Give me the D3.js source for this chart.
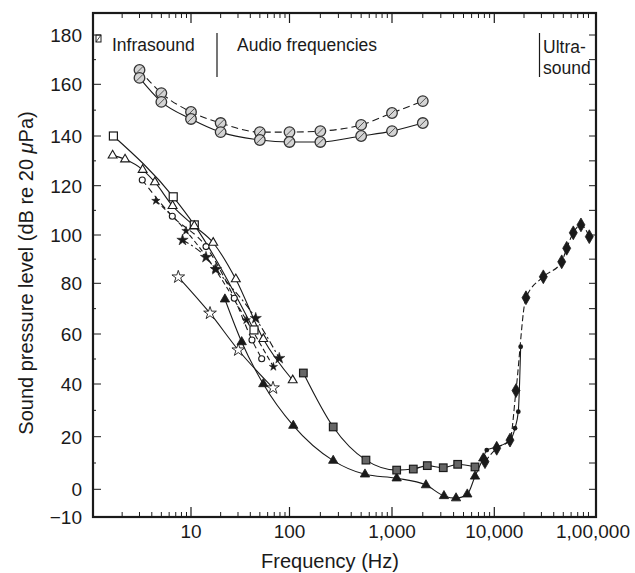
<!DOCTYPE html>
<html><head><meta charset="utf-8">
<script src="https://cdn.jsdelivr.net/npm/d3@7"></script>
<style>body{margin:0;background:#fff}svg{display:block}</style>
</head><body><svg id="c" width="635" height="573"></svg>
<script>
// ---------- axis ticks ----------
const xTickValues = [10, 100, 1000, 10000, 100000];
const xTickLabels = ["10", "100", "1,000", "10,000", "1,00,000"];
const yTickValues = [-10, 0, 20, 40, 60, 80, 100, 120, 140, 160, 180];
const yTickLabels = ["\u221210", "0", "20", "40", "60", "80", "100", "120", "140", "160", "180"];

// ---------- data (frequency Hz, level dB) ----------
const upperFreq = [3, 5, 10, 20, 50, 100, 200, 500, 1000, 2000];
const upperDashedDb = [165.8, 156.6, 149.3, 145, 141.5, 141.5, 141.9, 144.3, 148.9, 153.5];
const upperSolidDb = [162.6, 153.2, 146.6, 141.5, 138.4, 137.6, 137.6, 140, 141.9, 145];

const sqOpenFreq = [1.63, 6.6, 10.8, 43.6];
const sqOpenDb = [140, 115.5, 104.1, 61.6];

const triOpenFreq = [1.6, 2.14, 3.23, 4.3, 6.5, 10.8, 16.8, 28.5, 54.2, 107.5];
const triOpenDb = [132.2, 130.6, 126.4, 121.4, 111.8, 103.7, 96.8, 81.7, 58, 41.5];

const circOpenFreq = [3.2, 6.46, 14.2, 27.5, 41.6, 52.2];
const circOpenDb = [122.3, 107.6, 95.2, 74.1, 57.6, 50.1];

const starFilledFreq = [8.2, 14.2, 17.9, 45.4, 78.7];
const starFilledDb = [97.9, 90.8, 85.8, 66.2, 50.3];

const xStarFreq = [4.4, 8.9, 17.5, 36.4, 68.6];
const xStarDb = [113.9, 101.7, 85.9, 65.5, 46.9];

const starOpenFreq = [7.43, 15.6, 30.2, 68];
const starOpenDb = [82.6, 68.2, 53.6, 38.5];

const triFilledFreq = [22.1, 32.7, 54.2, 108.9, 267, 545, 1111, 2148, 3221, 4226, 5445, 6476, 7800];
const triFilledDb = [73.7, 56.8, 40, 24.2, 10.9, 5.7, 4.2, 1.6, -2.4, -3.2, -1.8, 4.9, 11.8];

const sqFilledFreq = [136.5, 267, 557, 1111, 1615, 2213, 3170, 4385, 6476];
const sqFilledDb = [44.4, 23.7, 11.1, 7.3, 7.7, 9.0, 8.2, 9.5, 8.5];

const dotFreq = [7800, 8440, 10580, 14420, 16200, 17500, 18500];
const dotDb = [11.8, 14.9, 16.1, 18.7, 23.2, 29.5, 54.9];

const diamFreq = [8110, 10580, 14420, 16590, 20940, 31380, 48200, 54140, 63130, 75500, 91700];
const diamDb = [10.5, 15.6, 18.7, 37.5, 74.3, 82.7, 88.9, 94.5, 100.9, 104.1, 99.3];

// ---------- scales ----------
const svg = d3.select("#c");
const ink = "#1a1a1a";
const x = d3.scaleLog()
  .domain([1, 10, 100, 1000, 10000, 100000])
  .range([92.5, 191, 289.5, 392, 494.3, 593]);
const y = d3.scaleLinear()
  .domain(yTickValues)
  .range([517, 489.3, 436.7, 384, 334, 283.3, 235, 185.7, 136, 84.3, 35]);

const L = 93, R = 596, T = 13, B = 517;
const font = "'Liberation Sans', Arial, Helvetica, sans-serif";

// ---------- ticks ----------
const tk = svg.append("g").attr("stroke", ink);
const minorX = [];
for (let e = 0; e < 5; e++) for (let m = 2; m <= 9; m++) minorX.push(m * Math.pow(10, e));
minorX.forEach(v => {
  tk.append("line").attr("x1", x(v)).attr("x2", x(v)).attr("y1", B).attr("y2", B - 5).attr("stroke-width", 1);
  tk.append("line").attr("x1", x(v)).attr("x2", x(v)).attr("y1", T).attr("y2", T + 5).attr("stroke-width", 1);
});
xTickValues.slice(0, 4).forEach(v => {
  tk.append("line").attr("x1", x(v)).attr("x2", x(v)).attr("y1", B).attr("y2", B - 10).attr("stroke-width", 1.2);
  tk.append("line").attr("x1", x(v)).attr("x2", x(v)).attr("y1", T).attr("y2", T + 10).attr("stroke-width", 1.2);
});
d3.range(-10, 181, 10).forEach(v => {
  const major = v >= 0 && v % 20 === 0;
  tk.append("line").attr("x1", L).attr("x2", L + (major ? 8 : 3)).attr("y1", y(v)).attr("y2", y(v)).attr("stroke-width", 1);
  if (v > -10) tk.append("line").attr("x1", R).attr("x2", R - 7).attr("y1", y(v)).attr("y2", y(v)).attr("stroke-width", 1);
});

// frame
svg.append("rect").attr("x", L).attr("y", T).attr("width", R - L).attr("height", B - T)
  .attr("fill", "none").attr("stroke", ink).attr("stroke-width", 2.2);

// tick labels
svg.append("g").selectAll("text").data(xTickValues).join("text")
  .attr("x", d => x(d)).attr("y", 538).attr("text-anchor", "middle")
  .attr("font-family", font).attr("font-size", 19).attr("fill", ink)
  .text((d, i) => xTickLabels[i]);
svg.append("g").selectAll("text").data(yTickValues).join("text")
  .attr("x", 82).attr("y", d => d === -10 ? B : y(d)).attr("dy", "0.36em").attr("text-anchor", "end")
  .attr("font-family", font).attr("font-size", 19).attr("fill", ink)
  .text((d, i) => yTickLabels[i]);

// axis titles
svg.append("text").attr("x", 330).attr("y", 568).attr("text-anchor", "middle")
  .attr("font-family", font).attr("font-size", 20).attr("fill", ink).text("Frequency (Hz)");
const yt = svg.append("text").attr("transform", "translate(33,273) rotate(-90)").attr("text-anchor", "middle")
  .attr("font-family", font).attr("font-size", 20).attr("fill", ink);
yt.append("tspan").text("Sound pressure level (dB re 20 ");
yt.append("tspan").attr("font-style", "italic").text("\u03bc");
yt.append("tspan").text("Pa)");

// region labels
const lab = (t, xx, yy) => svg.append("text").attr("x", xx).attr("y", yy)
  .attr("font-family", font).attr("font-size", 17.5).attr("fill", ink).text(t);
lab("Infrasound", 112, 51);
lab("Audio frequencies", 237, 51);
lab("Ultra-", 543, 53);
lab("sound", 543, 74);
svg.append("line").attr("x1", 217).attr("x2", 217).attr("y1", 33).attr("y2", 77).attr("stroke", ink).attr("stroke-width", 1.2);
svg.append("line").attr("x1", 539.5).attr("x2", 539.5).attr("y1", 33).attr("y2", 77).attr("stroke", ink).attr("stroke-width", 1.2);
svg.append("rect").attr("x", 96).attr("y", 35).attr("width", 5).attr("height", 7).attr("fill", "none").attr("stroke", ink).attr("stroke-width", 1);
svg.append("line").attr("x1", 96).attr("y1", 42).attr("x2", 101).attr("y2", 35).attr("stroke", ink).attr("stroke-width", 0.8);

// ---------- series ----------
const series = [
  {f: upperFreq, d: upperDashedDb, m: "hatchCircle", dash: "7,4"},
  {f: upperFreq, d: upperSolidDb, m: "hatchCircle", dash: null},
  {f: sqOpenFreq, d: sqOpenDb, m: "openSquare", dash: null},
  {f: triOpenFreq, d: triOpenDb, m: "openTriangle", dash: null},
  {f: circOpenFreq, d: circOpenDb, m: "openCircle", dash: "6,4"},
  {f: starFilledFreq, d: starFilledDb, m: "filledStar", dash: "7,3,2,3"},
  {f: xStarFreq, d: xStarDb, m: "xStar", dash: "5,3"},
  {f: starOpenFreq, d: starOpenDb, m: "openStar", dash: null},
  {f: triFilledFreq, d: triFilledDb, m: "filledTriangle", dash: null},
  {f: sqFilledFreq, d: sqFilledDb, m: "filledSquare", dash: null},
  {f: dotFreq, d: dotDb, m: "dot", dash: null},
  {f: diamFreq, d: diamDb, m: "filledDiamond", dash: "6,3"}
];

const line = d3.line().x(p => x(p[0])).y(p => y(p[1])).curve(d3.curveMonotoneX);
const lines = svg.append("g");
const marks = svg.append("g");
series.forEach(s => {
  const pts = s.f.map((v, i) => [v, s.d[i]]);
  lines.append("path").attr("d", line(pts)).attr("fill", "none").attr("stroke", ink)
    .attr("stroke-width", 1.1).attr("stroke-dasharray", s.dash);
  pts.forEach(p => drawMarker(s.m, x(p[0]), y(p[1])));
});

function sym(type, size, cx, cy, fill, sw) {
  marks.append("path").attr("d", d3.symbol().type(type).size(size)())
    .attr("transform", `translate(${cx},${cy})`).attr("fill", fill).attr("stroke", ink).attr("stroke-width", sw);
}
function drawMarker(m, cx, cy) {
  switch (m) {
    case "hatchCircle":
      marks.append("circle").attr("cx", cx).attr("cy", cy).attr("r", 5.3).attr("fill", "#d4d4d4").attr("stroke", "#333").attr("stroke-width", 1.3);
      marks.append("line").attr("x1", cx - 3).attr("y1", cy + 3).attr("x2", cx + 3).attr("y2", cy - 3).attr("stroke", "#555").attr("stroke-width", 1);
      break;
    case "openSquare":
      marks.append("rect").attr("x", cx - 4).attr("y", cy - 4).attr("width", 8).attr("height", 8).attr("fill", "#fff").attr("stroke", ink).attr("stroke-width", 1.2);
      break;
    case "openTriangle": sym(d3.symbolTriangle, 34, cx, cy, "#fff", 1.1); break;
    case "openCircle":
      marks.append("circle").attr("cx", cx).attr("cy", cy).attr("r", 3).attr("fill", "#fff").attr("stroke", ink).attr("stroke-width", 1.1);
      break;
    case "filledStar": sym(d3.symbolStar, 40, cx, cy, ink, 0.5); break;
    case "xStar": sym(d3.symbolStar, 22, cx, cy, ink, 0.5); break;
    case "openStar": sym(d3.symbolStar, 50, cx, cy, "#fff", 0.9); break;
    case "filledTriangle": sym(d3.symbolTriangle, 38, cx, cy, ink, 0.8); break;
    case "filledSquare":
      marks.append("rect").attr("x", cx - 3.8).attr("y", cy - 3.8).attr("width", 7.6).attr("height", 7.6).attr("fill", "#666").attr("stroke", ink).attr("stroke-width", 1.2);
      break;
    case "dot":
      marks.append("circle").attr("cx", cx).attr("cy", cy).attr("r", 2.4).attr("fill", ink);
      break;
    case "filledDiamond": sym(d3.symbolDiamond, 55, cx, cy, ink, 0.8); break;
  }
}
</script></body></html>
